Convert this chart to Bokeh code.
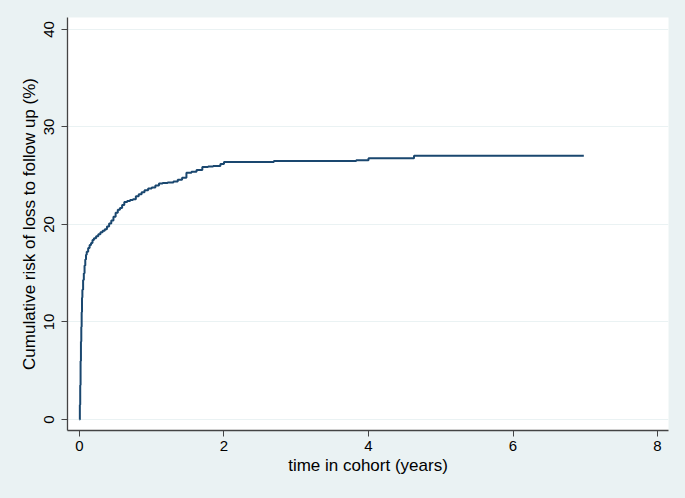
import numpy as np
from bokeh.plotting import figure
from bokeh.models import FixedTicker, Range1d
from bokeh.embed import file_html
from bokeh.resources import INLINE

# Kaplan-Meier style cumulative risk (step function)
time_years = [0, 0.005, 0.01, 0.015, 0.02, 0.025, 0.03, 0.035, 0.04, 0.05, 0.06, 0.07,
              0.08, 0.09, 0.10, 0.12, 0.14, 0.16, 0.18, 0.20, 0.23, 0.26, 0.29, 0.32,
              0.35, 0.38, 0.41, 0.44, 0.47, 0.50, 0.53, 0.56, 0.59, 0.62, 0.66, 0.70,
              0.74, 0.78, 0.82, 0.86, 0.90, 0.95, 1.00, 1.05, 1.10, 1.15, 1.22, 1.30,
              1.36, 1.42, 1.48, 1.55, 1.62, 1.70, 1.78, 1.85, 1.95, 2.00, 2.69, 3.83,
              4.00, 4.63, 6.98]
cum_risk = [0, 1.5, 3.5, 6.0, 8.0, 9.5, 11.0, 12.5, 13.3, 14.3, 15.0, 15.8,
            16.4, 16.9, 17.2, 17.6, 17.9, 18.1, 18.4, 18.6, 18.8, 19.0, 19.2, 19.35,
            19.5, 19.8, 20.1, 20.4, 20.8, 21.2, 21.5, 21.7, 22.0, 22.3, 22.4, 22.5,
            22.6, 22.9, 23.1, 23.3, 23.5, 23.7, 23.8, 24.0, 24.2, 24.25, 24.3, 24.4,
            24.6, 24.8, 25.3, 25.4, 25.6, 25.9, 25.95, 26.0, 26.2, 26.4, 26.5, 26.6,
            26.8, 27.05, 27.05]
x_ticks = [0, 2, 4, 6, 8]
y_ticks = [0, 10, 20, 30, 40]

BG = "#EAF2F3"
FONT = "Liberation Sans"

p = figure(width=685, height=498, output_backend="svg", toolbar_location=None,
           x_range=Range1d(-0.166, 8.152), y_range=Range1d(-1.13, 41.23),
           min_border_left=67, min_border_right=17, min_border_top=17, min_border_bottom=68)
p.background_fill_color = "white"
p.border_fill_color = BG
p.outline_line_color = None

p.step(time_years, cum_risk, mode="after", line_color="#1A476F", line_width=2)

p.xgrid.grid_line_color = None
p.ygrid.grid_line_color = BG
p.ygrid.grid_line_width = 1.2
p.ygrid.ticker = FixedTicker(ticks=y_ticks)

p.xaxis.ticker = FixedTicker(ticks=x_ticks)
p.yaxis.ticker = FixedTicker(ticks=y_ticks)
p.xaxis.axis_label = "time in cohort (years)"
p.yaxis.axis_label = "Cumulative risk of loss to follow up (%)"
p.yaxis.major_label_orientation = "vertical"

for ax in (p.xaxis, p.yaxis):
    ax.axis_line_color = "#444444"
    ax.axis_line_width = 1.3
    ax.major_tick_line_color = "#444444"
    ax.major_tick_in = 0
    ax.major_tick_out = 6
    ax.minor_tick_line_color = None
    ax.major_label_text_font = FONT
    ax.major_label_text_font_size = "15px"
    ax.major_label_text_color = "black"
    ax.axis_label_text_font = FONT
    ax.axis_label_text_font_size = "17px"
    ax.axis_label_text_font_style = "normal"
    ax.axis_label_text_color = "black"

p.xaxis.major_label_standoff = 4
p.xaxis.axis_label_standoff = 2
p.yaxis.major_label_standoff = 7
p.yaxis.axis_label_standoff = 3

html = file_html(p, INLINE)
html = html.replace("</head>", "<style>html,body{background:%s;}</style></head>" % BG, 1)
open("out.html", "w").write(html)
